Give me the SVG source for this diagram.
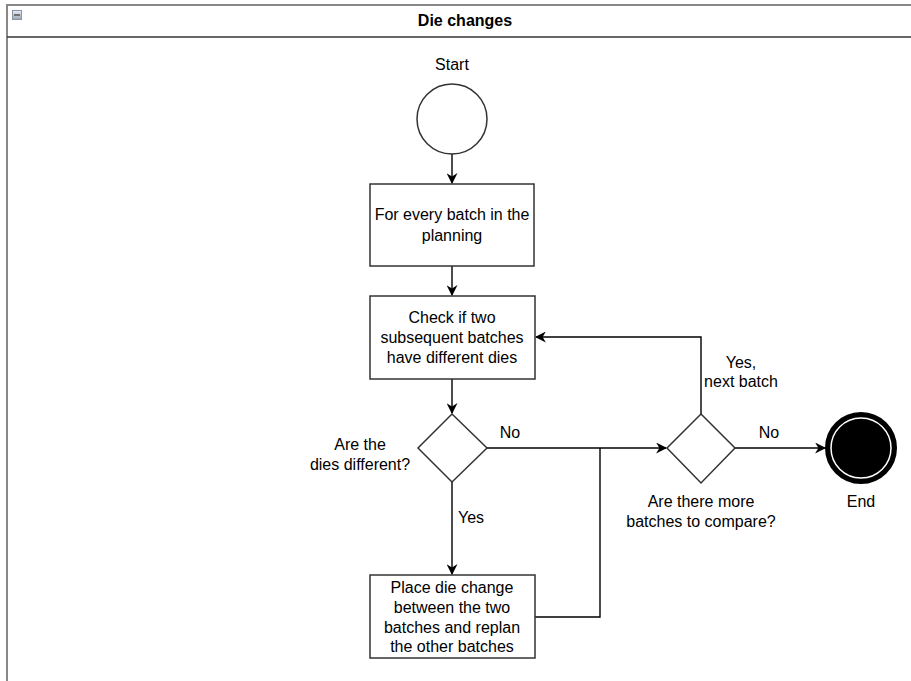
<svg xmlns="http://www.w3.org/2000/svg" width="911" height="681" viewBox="0 0 911 681">
<style>
text{font-family:"Liberation Sans",Arial,sans-serif;font-size:16px;fill:#000;text-anchor:middle}
.title{font-weight:bold;font-size:16px}
.node{fill:#fff;stroke:#333;stroke-width:1.5}
.edge{fill:none;stroke:#000;stroke-width:1.4}
</style>
<defs>
<marker id="arr" viewBox="0 0 10 10" refX="9" refY="5" markerWidth="11" markerHeight="11" markerUnits="userSpaceOnUse" orient="auto">
<path d="M0,0 L10,5 L0,10 L3,5 Z" fill="#000"/>
</marker>
<linearGradient id="ic" x1="0" y1="0" x2="0" y2="1">
<stop offset="0" stop-color="#e8eef5"/>
<stop offset="1" stop-color="#9aa6b4"/>
</linearGradient>
</defs>
<rect x="0" y="0" width="911" height="681" fill="#fff"/>
<g id="frame">
<line x1="7" y1="5" x2="911" y2="5" stroke="#888" stroke-width="2"/>
<line x1="7" y1="4" x2="7" y2="681" stroke="#888" stroke-width="2"/>
<line x1="7" y1="37" x2="911" y2="37" stroke="#333" stroke-width="1.5"/>
<rect x="12.5" y="10.5" width="9" height="9" fill="url(#ic)" stroke="#8a96a4" stroke-width="1"/>
<line x1="14" y1="15" x2="20" y2="15" stroke="#555" stroke-width="1.5"/>
<text class="title" x="465" y="26">Die changes</text>
</g>
<g id="connectors">
<path class="edge" d="M452,154 V183" marker-end="url(#arr)"/>
<path class="edge" d="M452,266 V295" marker-end="url(#arr)"/>
<path class="edge" d="M452,379 V413" marker-end="url(#arr)"/>
<path class="edge" d="M487,448 H666" marker-end="url(#arr)"/>
<path class="edge" d="M452,482 V574" marker-end="url(#arr)"/>
<path class="edge" d="M535,617 H600 V448"/>
<path class="edge" d="M701,414 V337 H536" marker-end="url(#arr)"/>
<path class="edge" d="M735,448 H825" marker-end="url(#arr)"/>
<text x="510" y="438">No</text>
<text x="471" y="523">Yes</text>
<text x="741" y="368">Yes,</text>
<text x="741" y="387">next batch</text>
<text x="769" y="438">No</text>
</g>
<g id="start">
<circle class="node" cx="452" cy="119" r="35"/>
<text x="452" y="70">Start</text>
</g>
<g id="forEvery">
<rect class="node" x="370" y="184" width="164" height="82"/>
<text x="452" y="220">For every batch in the</text>
<text x="452" y="241">planning</text>
</g>
<g id="check">
<rect class="node" x="370" y="296" width="165" height="83"/>
<text x="452" y="323">Check if two</text>
<text x="452" y="343">subsequent batches</text>
<text x="452" y="363">have different dies</text>
</g>
<g id="diesDifferent">
<path class="node" d="M452,414 L487,448 L452,482 L418,448 Z"/>
<text x="360" y="450">Are the</text>
<text x="360" y="470">dies different?</text>
</g>
<g id="moreBatches">
<path class="node" d="M701,414 L735,448 L701,483 L667,448 Z"/>
<text x="701" y="507">Are there more</text>
<text x="701" y="527">batches to compare?</text>
</g>
<g id="placeChange">
<rect class="node" x="370" y="575" width="165" height="83"/>
<text x="452" y="593">Place die change</text>
<text x="452" y="613">between the two</text>
<text x="452" y="633">batches and replan</text>
<text x="452" y="652">the other batches</text>
</g>
<g id="end">
<circle cx="861" cy="448" r="34" fill="#000" stroke="#000" stroke-width="4"/>
<circle cx="861" cy="448" r="30" fill="#000" stroke="#fff" stroke-width="1.5"/>
<text x="861" y="507">End</text>
</g>
</svg>
